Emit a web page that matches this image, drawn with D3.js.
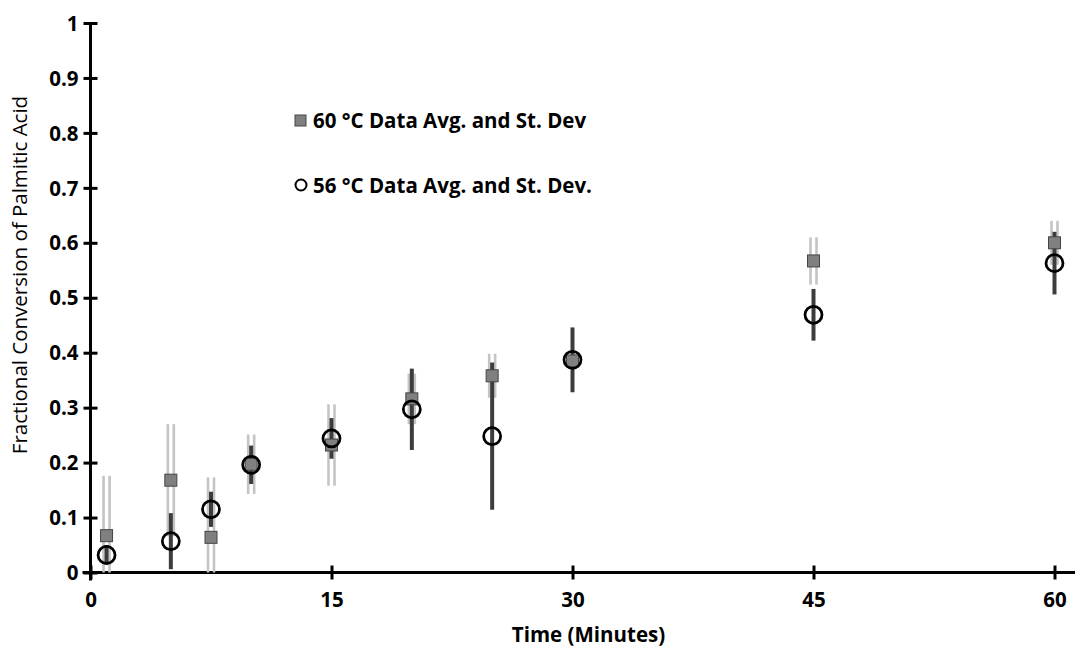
<!DOCTYPE html>
<html>
<head>
<meta charset="utf-8">
<script src="https://cdn.jsdelivr.net/npm/d3@7"></script>
<style>
  html, body { margin: 0; padding: 0; background: #fff; }
  svg { display: block; }
  text { font-family: "Open Sans", sans-serif; fill: #000; }
</style>
</head>
<body>
<svg id="chart" width="1078" height="648"></svg>
<script>
// Sampling times (minutes)
const times = [1, 5, 7.5, 10, 15, 20, 25, 30, 45, 60];

// 60 °C runs: average conversion and standard deviation
const avg60 = [0.067, 0.168, 0.064, 0.197, 0.232, 0.316, 0.358, 0.385, 0.567, 0.600];
const sd60  = [0.109, 0.102, 0.109, 0.054, 0.074, 0.046, 0.040, 0.010, 0.043, 0.040];

// 56 °C runs: average conversion and standard deviation
const avg56 = [0.032, 0.057, 0.115, 0.196, 0.244, 0.297, 0.248, 0.387, 0.469, 0.563];
const sd56  = [0.018, 0.051, 0.032, 0.035, 0.037, 0.074, 0.134, 0.059, 0.047, 0.057];

const xTicks = [0, 15, 30, 45, 60];
const yTicks = [0, 0.1, 0.2, 0.3, 0.4, 0.5, 0.6, 0.7, 0.8, 0.9, 1];

const legendLabels = ["60 °C Data Avg. and St. Dev", "56 °C Data Avg. and St. Dev."];

const FONT = "20.5px";

const svg = d3.select("#chart");

const x = d3.scaleLinear().domain([0, 60]).range([90.5, 1054.5]);
const y = d3.scaleLinear().domain([0, 1]).range([572.5, 23]);

const s60 = times.map((t, i) => ({ t, v: avg60[i], sd: sd60[i] }));
const s56 = times.map((t, i) => ({ t, v: avg56[i], sd: sd56[i] }));
const lo = d => y(Math.max(0, d.v - d.sd));
const hi = d => y(d.v + d.sd);

// Axes: ticks cross the axis line
const yAxis = svg.append("g")
  .attr("transform", `translate(${x(0)},0)`)
  .call(d3.axisLeft(y).tickValues(yTicks).tickSize(0)
    .tickFormat(d => (d === 0 || d === 1) ? String(d) : d.toFixed(1)));
yAxis.select(".domain").remove();
yAxis.selectAll(".tick line").attr("x1", -7).attr("x2", 7)
  .attr("stroke", "#000").attr("stroke-width", 3);
yAxis.selectAll(".tick text").attr("x", -12).attr("dy", "0.35em")
  .style("font-size", FONT).style("font-weight", "bold")
  .style("font-family", "'Open Sans', sans-serif");
yAxis.append("line").attr("x1", 0).attr("x2", 0)
  .attr("y1", y(1)).attr("y2", y(0) + 8)
  .attr("stroke", "#000").attr("stroke-width", 3);

const xAxis = svg.append("g")
  .attr("transform", `translate(0,${y(0)})`)
  .call(d3.axisBottom(x).tickValues(xTicks).tickSize(0).tickFormat(d3.format("d")));
xAxis.select(".domain").remove();
xAxis.selectAll(".tick line").attr("y1", -7).attr("y2", 7)
  .attr("stroke", "#000").attr("stroke-width", 3);
xAxis.selectAll(".tick text").attr("y", 20).attr("dy", "0.71em")
  .style("font-size", FONT).style("font-weight", "bold")
  .style("font-family", "'Open Sans', sans-serif");
xAxis.append("line").attr("x1", x(0) - 8).attr("x2", 1075)
  .attr("y1", 0).attr("y2", 0)
  .attr("stroke", "#000").attr("stroke-width", 3);

// Axis titles
svg.append("text")
  .attr("x", x(30) + 16).attr("y", 642)
  .attr("text-anchor", "middle")
  .style("font-size", FONT).style("font-weight", "bold")
  .text("Time (Minutes)");

svg.append("text")
  .attr("transform", `translate(27,${275}) rotate(-90)`)
  .attr("text-anchor", "middle")
  .style("font-size", FONT)
  .text("Fractional Conversion of Palmitic Acid");

// 60 °C standard deviation: light double-line bars
const plot = svg.append("g");
[-3, 3].forEach(off => {
  plot.selectAll(null).data(s60).enter().append("line")
    .attr("x1", d => x(d.t) + off).attr("x2", d => x(d.t) + off)
    .attr("y1", hi).attr("y2", lo)
    .attr("stroke", "#c4c4c4").attr("stroke-width", 2.6);
});

// 56 °C standard deviation: solid dark bars
plot.selectAll(null).data(s56).enter().append("line")
  .attr("x1", d => x(d.t)).attr("x2", d => x(d.t))
  .attr("y1", hi).attr("y2", lo)
  .attr("stroke", "#3c3c3c").attr("stroke-width", 4);

// 60 °C averages: grey squares
const sq = 12;
plot.selectAll(null).data(s60).enter().append("rect")
  .attr("x", d => x(d.t) - sq / 2).attr("y", d => y(d.v) - sq / 2)
  .attr("width", sq).attr("height", sq)
  .attr("fill", "#808080").attr("stroke", "#444").attr("stroke-width", 1);

// 56 °C averages: open circles
plot.selectAll(null).data(s56).enter().append("circle")
  .attr("cx", d => x(d.t)).attr("cy", d => y(d.v)).attr("r", 8.5)
  .attr("fill", "none").attr("stroke", "#000").attr("stroke-width", 2.75);

// Legend
const lg = svg.append("g");
lg.append("rect").attr("x", 295).attr("y", 115).attr("width", 11).attr("height", 11)
  .attr("fill", "#808080").attr("stroke", "#444").attr("stroke-width", 1);
lg.append("circle").attr("cx", 301).attr("cy", 185).attr("r", 5.5)
  .attr("fill", "none").attr("stroke", "#000").attr("stroke-width", 2);
lg.selectAll(null).data(legendLabels).enter().append("text")
  .attr("x", 313).attr("y", (d, i) => i === 0 ? 120.5 : 185.5)
  .attr("dy", "0.35em")
  .style("font-size", FONT).style("font-weight", "bold")
  .text(d => d);
</script>
</body>
</html>
